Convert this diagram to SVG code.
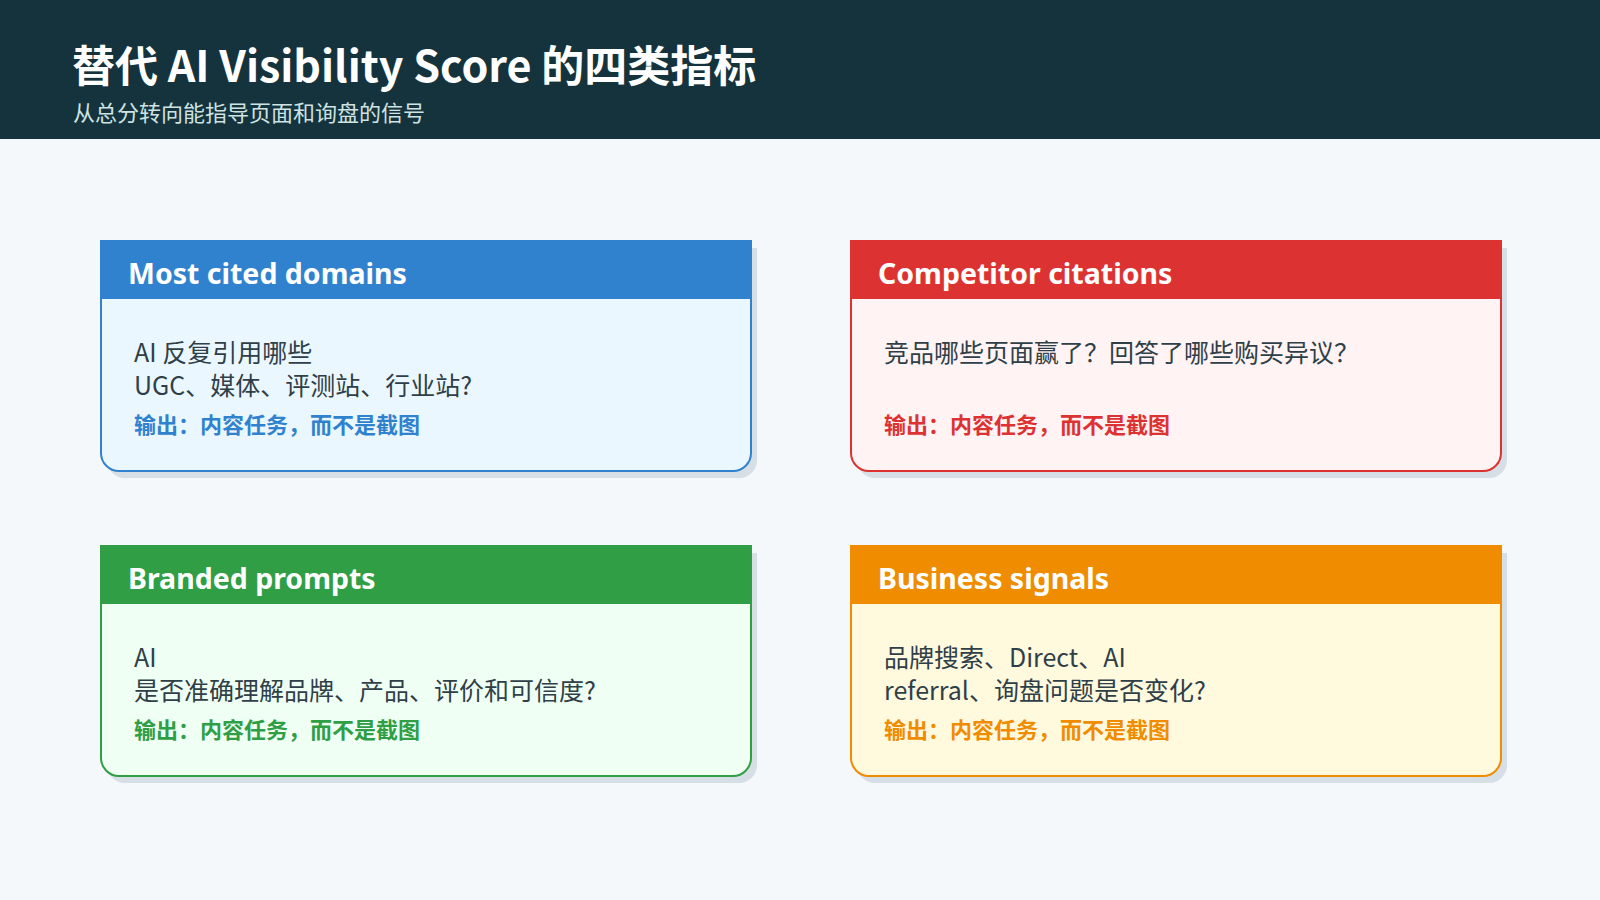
<svg xmlns="http://www.w3.org/2000/svg" width="1600" height="900" viewBox="0 0 1600 900">
<defs>
<style>
.title{font-family:"Noto Sans CJK SC","Noto Sans",sans-serif;font-weight:700;font-size:43px;fill:#ffffff}
.sub{font-family:"Noto Sans CJK SC","Noto Sans",sans-serif;font-size:22px;fill:#cfe3e2}
.hd{font-family:"Noto Sans","Noto Sans CJK SC",sans-serif;font-weight:700;font-size:28.5px;fill:#ffffff}
.body{font-family:"Noto Sans CJK SC","Noto Sans",sans-serif;font-size:25px;fill:#2f3f48}
.out{font-family:"Noto Sans CJK SC","Noto Sans",sans-serif;font-weight:700;font-size:22px}
.shadow{fill:#d6dee6}
</style>
<path id="card" d="M0 0 H650 V212 A18 18 0 0 1 632 230 H18 A18 18 0 0 1 0 212 Z"/>
</defs>
<rect width="1600" height="900" fill="#f5f8fb"/>
<g id="header">
<rect width="1600" height="139" fill="#15333d"/>
<text class="title" x="72" y="82">替代 AI Visibility Score 的四类指标</text>
<text class="sub" x="73" y="121">从总分转向能指导页面和询盘的信号</text>
</g>
<g id="connectors"></g>
<g id="card-domains" transform="translate(101,241)">
<use href="#card" class="shadow" x="6" y="7"/>
<use href="#card" fill="#ebf7ff" stroke="#3182ce" stroke-width="2"/>
<rect x="0" y="0" width="650" height="58" fill="#3182ce"/>
<text class="hd" x="27" y="43">Most cited domains</text>
<text class="body" x="33" y="121">AI 反复引用哪些</text>
<text class="body" x="33" y="154">UGC、媒体、评测站、行业站?</text>
<text class="out" x="33" y="192" fill="#3182ce">输出：内容任务，而不是截图</text>
</g>
<g id="card-competitor" transform="translate(851,241)">
<use href="#card" class="shadow" x="6" y="7"/>
<use href="#card" fill="#fff3f3" stroke="#dd3232" stroke-width="2"/>
<rect x="0" y="0" width="650" height="58" fill="#dd3232"/>
<text class="hd" x="27" y="43">Competitor citations</text>
<text class="body" x="33" y="121">竞品哪些页面赢了？回答了哪些购买异议？</text>
<text class="out" x="33" y="192" fill="#dd3232">输出：内容任务，而不是截图</text>
</g>
<g id="card-branded" transform="translate(101,546)">
<use href="#card" class="shadow" x="6" y="7"/>
<use href="#card" fill="#effff3" stroke="#2f9e44" stroke-width="2"/>
<rect x="0" y="0" width="650" height="58" fill="#2f9e44"/>
<text class="hd" x="27" y="43">Branded prompts</text>
<text class="body" x="33" y="121">AI</text>
<text class="body" x="33" y="154">是否准确理解品牌、产品、评价和可信度?</text>
<text class="out" x="33" y="192" fill="#2f9e44">输出：内容任务，而不是截图</text>
</g>
<g id="card-business" transform="translate(851,546)">
<use href="#card" class="shadow" x="6" y="7"/>
<use href="#card" fill="#fff9de" stroke="#ef8c00" stroke-width="2"/>
<rect x="0" y="0" width="650" height="58" fill="#ef8c00"/>
<text class="hd" x="27" y="43">Business signals</text>
<text class="body" x="33" y="121">品牌搜索、Direct、AI</text>
<text class="body" x="33" y="154">referral、询盘问题是否变化?</text>
<text class="out" x="33" y="192" fill="#ef8c00">输出：内容任务，而不是截图</text>
</g>
</svg>
